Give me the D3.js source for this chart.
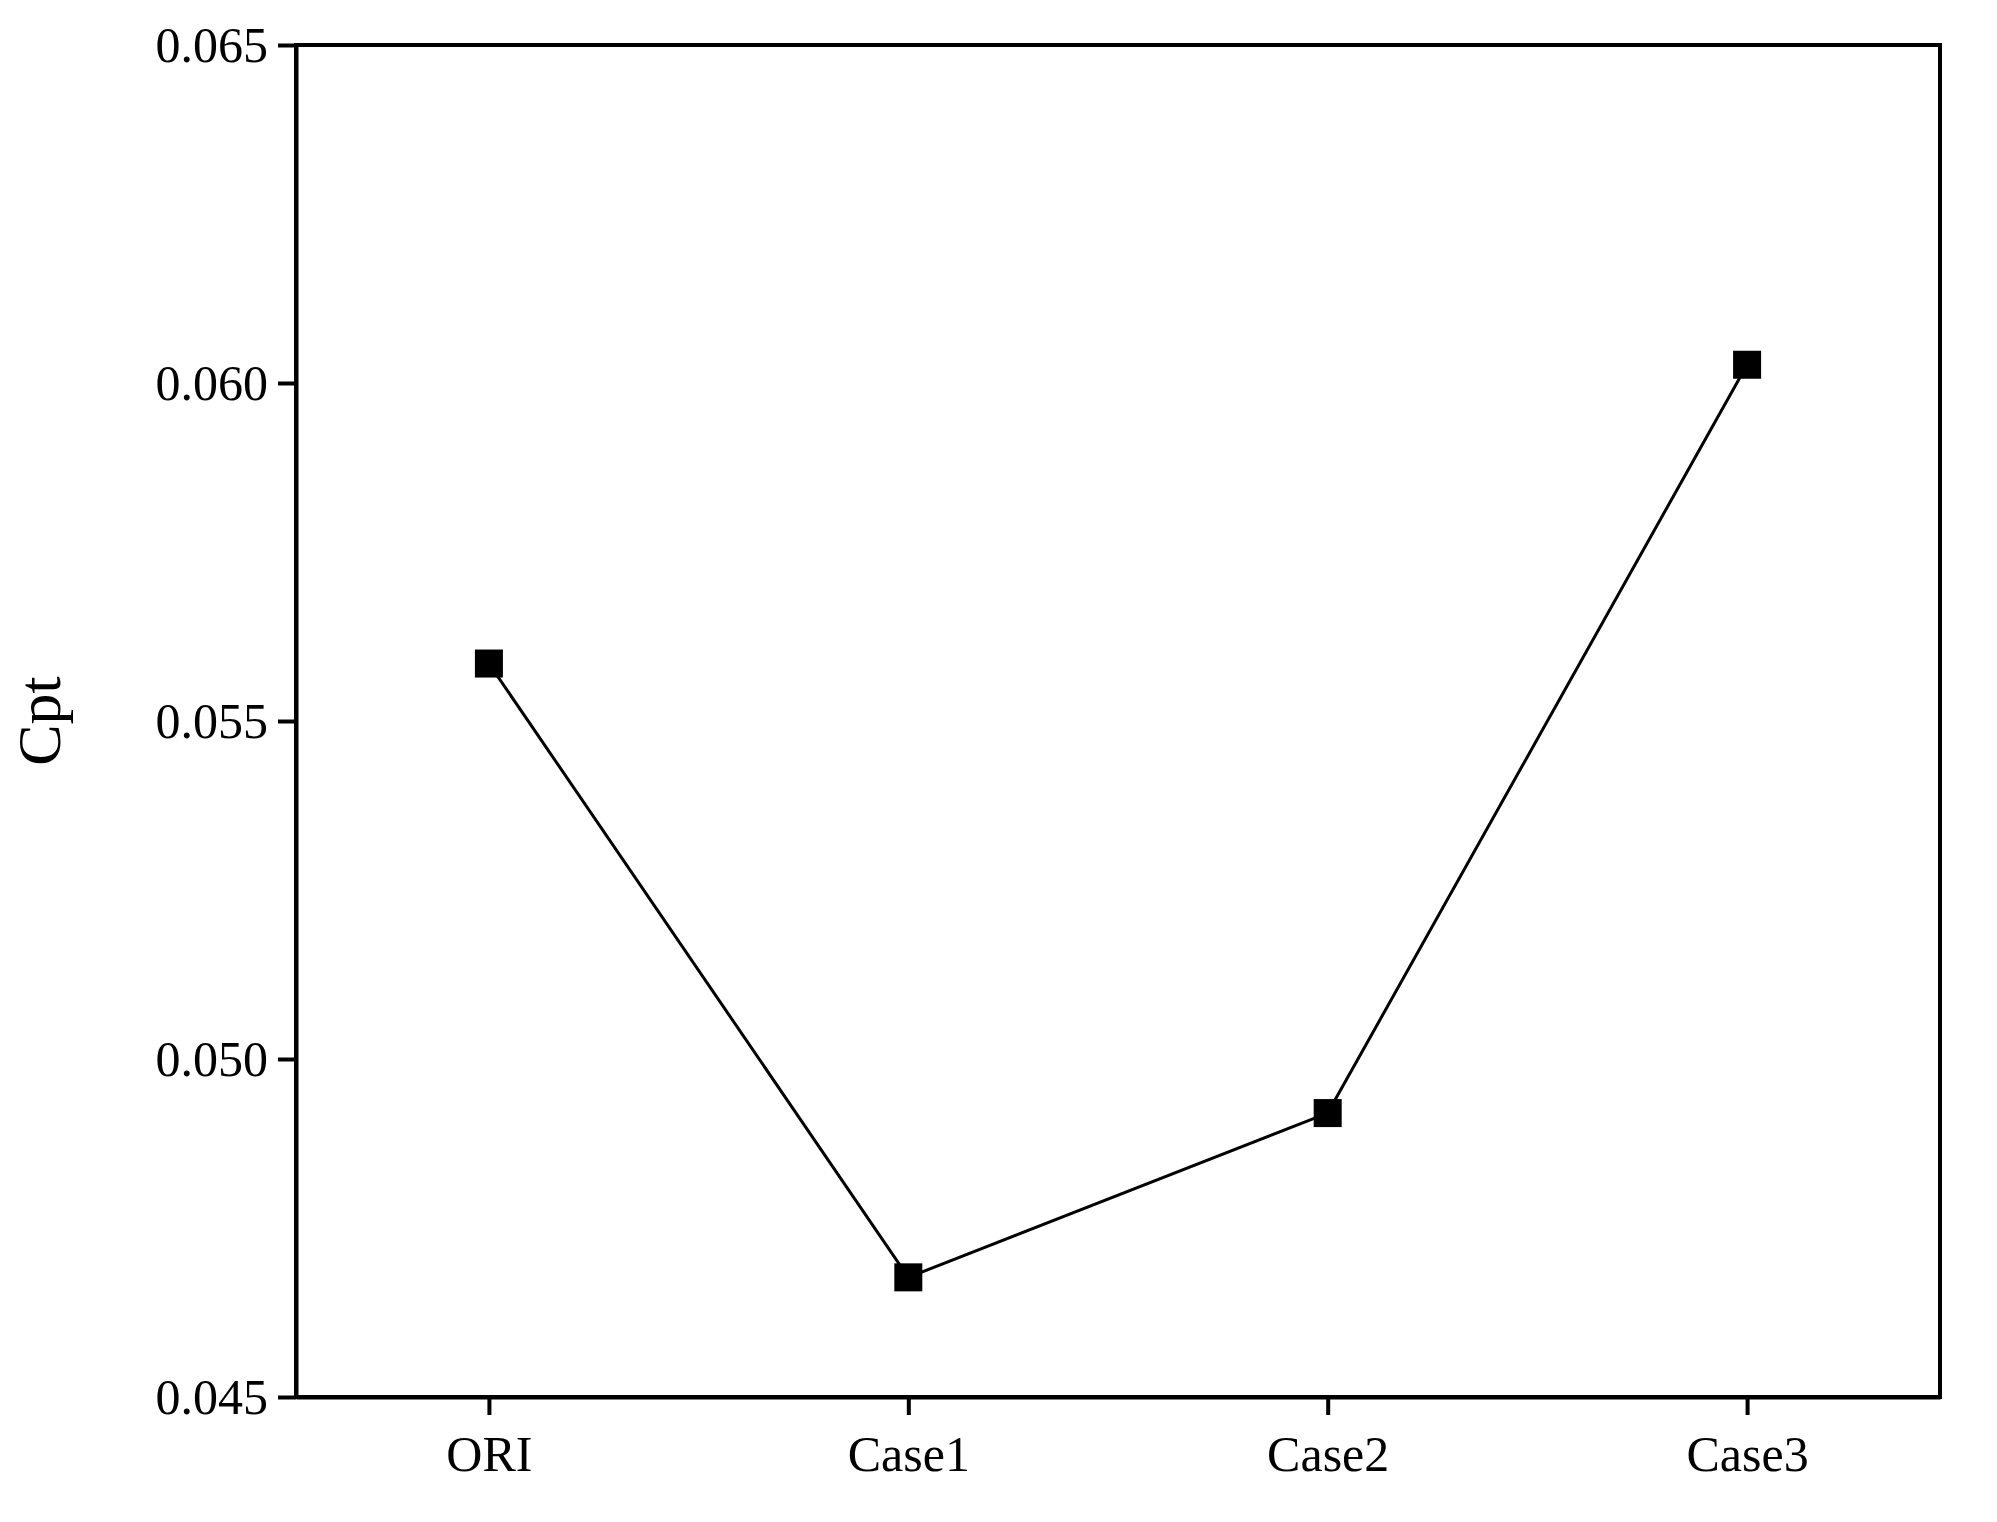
<!DOCTYPE html>
<html><head><meta charset="utf-8">
<script src="https://cdn.jsdelivr.net/npm/d3@7"></script>
<style>body{margin:0;background:#fff}</style>
</head><body>
<svg id="chart" width="1997" height="1522"></svg>
<script>
const categories = ["ORI", "Case1", "Case2", "Case3"];
const cptValues = [0.05585, 0.04677, 0.0492, 0.06027];
const yTicks = [0.045, 0.050, 0.055, 0.060, 0.065];

const margin = {left: 296, right: 57, top: 45, bottom: 125};
const W = 1997, H = 1522;
const svg = d3.select("#chart");
const font = '"Liberation Serif", "Times New Roman", serif';

const x = d3.scalePoint().domain(categories).range([margin.left, W - margin.right]).padding(0.46);
const y = d3.scaleLinear().domain([0.045, 0.065]).range([H - margin.bottom, margin.top]);

const styleAxis = g => {
  g.selectAll("path,line").attr("stroke", "#000").attr("stroke-width", 4);
  g.selectAll("text").attr("font-family", font).attr("font-size", 50).attr("fill", "#000");
};

svg.append("g")
  .attr("transform", `translate(0,${H - margin.bottom})`)
  .call(d3.axisBottom(x).tickSizeInner(18).tickSizeOuter(0).tickPadding(20))
  .call(styleAxis);

svg.append("g")
  .attr("transform", `translate(${margin.left},0)`)
  .call(d3.axisLeft(y).tickValues(yTicks).tickFormat(d3.format(".3f")).tickSizeInner(18).tickSizeOuter(0).tickPadding(10))
  .call(styleAxis);

// frame: top and right spines
svg.append("rect")
  .attr("x", margin.left).attr("y", margin.top)
  .attr("width", W - margin.right - margin.left)
  .attr("height", H - margin.bottom - margin.top)
  .attr("fill", "none").attr("stroke", "#000").attr("stroke-width", 4);

svg.append("text")
  .attr("transform", `translate(60,${(margin.top + H - margin.bottom) / 2}) rotate(-90)`)
  .attr("text-anchor", "middle")
  .attr("font-family", font).attr("font-size", 62)
  .text("Cpt");

const pts = categories.map((c, i) => [x(c), y(cptValues[i])]);

svg.append("path")
  .attr("d", d3.line()(pts))
  .attr("fill", "none").attr("stroke", "#000").attr("stroke-width", 3);

const s = 28;
svg.append("g").selectAll("rect")
  .data(pts).enter().append("rect")
  .attr("x", d => d[0] - s / 2).attr("y", d => d[1] - s / 2)
  .attr("width", s).attr("height", s).attr("fill", "#000");
</script>
</body></html>
